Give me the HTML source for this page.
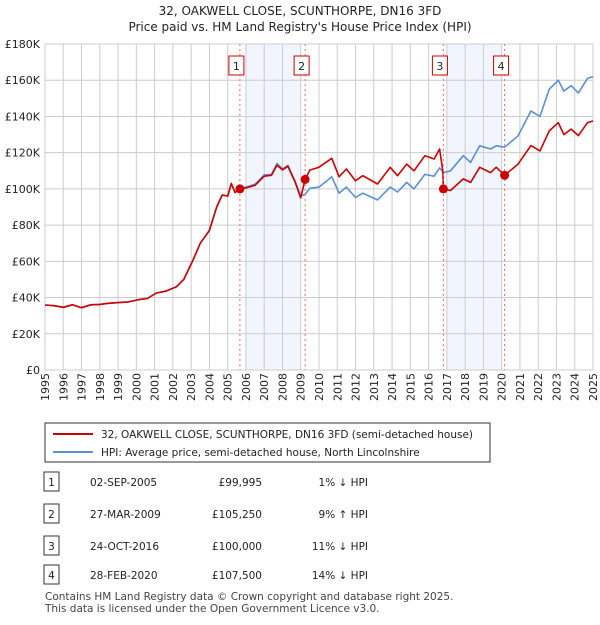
<!DOCTYPE html>
<html><head><meta charset="utf-8"><style>
body{margin:0;background:#fff;font-family:"Liberation Sans","DejaVu Sans",sans-serif;}
svg text{font-family:"DejaVu Sans","Liberation Sans",sans-serif;}
</style></head><body>
<svg id="c" width="600" height="620" xmlns="http://www.w3.org/2000/svg">
<text x="300" y="15" text-anchor="middle" font-size="12" fill="#222">32, OAKWELL CLOSE, SCUNTHORPE, DN16 3FD</text>
<text x="300" y="31" text-anchor="middle" font-size="12" fill="#222">Price paid vs. HM Land Registry's House Price Index (HPI)</text>
<g id="plot"></g>
<g>
<rect x="45" y="423" width="445" height="39" fill="#fff" stroke="#333" stroke-width="1"/>
<line x1="53" y1="434" x2="93" y2="434" stroke="#cc0000" stroke-width="2"/>
<text x="101" y="438" font-size="10.5" fill="#222">32, OAKWELL CLOSE, SCUNTHORPE, DN16 3FD (semi-detached house)</text>
<line x1="53" y1="452" x2="93" y2="452" stroke="#5b8fd6" stroke-width="2"/>
<text x="101" y="456" font-size="10.5" fill="#222">HPI: Average price, semi-detached house, North Lincolnshire</text>
</g>
<g id="table" font-size="10.5" fill="#222"></g>
<text x="45" y="600" font-size="10.5" fill="#444">Contains HM Land Registry data © Crown copyright and database right 2025.</text>
<text x="45" y="612" font-size="10.5" fill="#444">This data is licensed under the Open Government Licence v3.0.</text>
</svg>
<script>
const hpiYears=[1995,1995.5,1996,1996.5,1997,1997.5,1998,1998.4,1999,1999.5,2000.2,2000.6,2001.1,2001.6,2002.2,2002.6,2003.1,2003.5,2004.0,2004.4,2004.7,2005.0,2005.2,2005.4,2005.67,2006.0,2006.5,2007.0,2007.4,2007.7,2008.0,2008.3,2008.7,2009.0,2009.24,2009.5,2010.0,2010.7,2011.1,2011.5,2012.0,2012.4,2013.2,2013.9,2014.3,2014.8,2015.2,2015.8,2016.3,2016.6,2016.81,2017.2,2017.9,2018.3,2018.8,2019.4,2019.7,2020.16,2020.9,2021.6,2022.1,2022.6,2023.1,2023.4,2023.8,2024.2,2024.7,2025.0];
const hpiValues=[35.9,35.5,34.6,36,34.4,36,36.2,36.8,37.2,37.5,39,39.5,42.5,43.5,46,50,60.7,70,77,90,96.6,96,103,98,100.5,101,102.6,107.7,108,114,111,113,104,96,97,100.3,101,106.7,97.6,101,95.3,97.6,93.9,101,98.3,103.6,100,108,107,111.6,109,110,118.3,114.6,123.8,122,123.8,123,129.3,143,140,155,160,154,157,153,161,162];
const priceYears=[1995,1995.5,1996,1996.5,1997,1997.5,1998,1998.4,1999,1999.5,2000.2,2000.6,2001.1,2001.6,2002.2,2002.6,2003.1,2003.5,2004.0,2004.4,2004.7,2005.0,2005.2,2005.4,2005.67,2006.0,2006.5,2007.0,2007.4,2007.7,2008.0,2008.3,2008.7,2009.0,2009.24,2009.5,2010.0,2010.7,2011.1,2011.5,2012.0,2012.4,2013.2,2013.9,2014.3,2014.8,2015.2,2015.8,2016.3,2016.6,2016.78,2016.81,2017.2,2017.9,2018.3,2018.8,2019.4,2019.7,2020.16,2020.9,2021.6,2022.1,2022.6,2023.1,2023.4,2023.8,2024.2,2024.7,2025.0];
const priceValues=[35.9,35.5,34.6,36,34.4,36,36.2,36.8,37.2,37.5,39,39.5,42.5,43.5,46,50,60.7,70,77,90,96.6,96,103,98,100,100.5,102,107,107.5,113,110.5,112.5,103.5,95,105.25,110.4,112,116.9,106.7,111,104.5,107.3,102.7,111.9,107.3,113.7,110,118.3,116.5,122,110,100,99.1,105.5,103.6,111.9,109,112,107.5,113.7,123.9,121,132,136.6,130,133,129.4,136.6,137.5];
const saleYears=[2005.67,2009.24,2016.81,2020.16];
const saleValues=[99.995,105.25,100,107.5];
const saleLabels=["1","2","3","4"];
const saleDates=["02-SEP-2005","27-MAR-2009","24-OCT-2016","28-FEB-2020"];
const salePrices=["£99,995","£105,250","£100,000","£107,500"];
const saleHpi=["1% ↓ HPI","9% ↑ HPI","11% ↓ HPI","14% ↓ HPI"];
const bandStarts=[2006,2017];
const bandEnds=[2009,2020];
const yTicks=[0,20,40,60,80,100,120,140,160,180];
const yTickLabels=["£0","£20K","£40K","£60K","£80K","£100K","£120K","£140K","£160K","£180K"];
const xTicks=[1995,1996,1997,1998,1999,2000,2001,2002,2003,2004,2005,2006,2007,2008,2009,2010,2011,2012,2013,2014,2015,2016,2017,2018,2019,2020,2021,2022,2023,2024,2025];

const NS="http://www.w3.org/2000/svg";
const L=45,R=593,T=44,B=370;
const xs=y=>L+(y-1995)/30*(R-L);
const ys=v=>B-v/180*(B-T);
const g=document.getElementById('plot');
function mk(tag,at,parent){const e=document.createElementNS(NS,tag);for(const k in at)e.setAttribute(k,at[k]);(parent||g).appendChild(e);return e;}
let e;
e=mk('rect',{x:L,y:T,width:R-L,height:B-T,fill:'#fff'});


bandStarts.forEach((s,i)=>{e=mk('rect',{x:xs(s),y:T,width:xs(bandEnds[i])-xs(s),height:B-T,fill:'#eef3fc',opacity:0.8});

});
yTicks.forEach((v,i)=>{e=mk('line',{x1:L,x2:R,y1:ys(v),y2:ys(v),stroke:'#cccccc','stroke-width':1});


e=mk('text',{x:L-5,y:ys(v)+4,'text-anchor':'end','font-size':11,fill:'#222'});e.textContent=yTickLabels[i];

});
xTicks.forEach(y=>{e=mk('line',{x1:xs(y),x2:xs(y),y1:T,y2:B,stroke:'#cccccc','stroke-width':1});


const tx=xs(y)+4,ty=B+3;
e=mk('text',{x:tx,y:ty,'text-anchor':'end','font-size':11,fill:'#222',transform:'rotate(-90 '+tx+' '+ty+')'});e.textContent=y;

});
e=mk('rect',{x:L,y:T,width:R-L,height:B-T,fill:'none',stroke:'#cccccc'});


function line(xa,va,col,name){const d=xa.map((x,i)=>(i?'L':'M')+xs(x).toFixed(1)+','+ys(va[i]).toFixed(1)).join('');
const p=mk('path',{d:d,fill:'none',stroke:col,'stroke-width':1.6,'stroke-linejoin':'round'});

}
line(hpiYears,hpiValues,'#5b8fd6','hpi-line');
line(priceYears,priceValues,'#cc0000','price-paid-line');
saleYears.forEach((y,i)=>{
e=mk('line',{x1:xs(y),x2:xs(y),y1:T,y2:B,stroke:'#ff6666','stroke-width':1,'stroke-dasharray':'2,3'});


e=mk('circle',{cx:xs(y),cy:ys(saleValues[i]),r:4.5,fill:'#cc0000'});


e=mk('rect',{x:xs(y)-11,y:56,width:15,height:19,fill:'#fff',stroke:'#cc0000'});


e=mk('text',{x:xs(y)-3.5,y:70,'text-anchor':'middle','font-size':11,fill:'#222'});e.textContent=saleLabels[i];

});
const tb=document.getElementById('table');
const rowY=[482,514,546,575];
saleLabels.forEach((s,i)=>{const y=rowY[i];
e=mk('rect',{x:44,y:y-10,width:15,height:19,fill:'#fff',stroke:'#333'},tb);


e=mk('text',{x:51.5,y:y+4,'text-anchor':'middle'},tb);e.textContent=s;


e=mk('text',{x:90,y:y+4},tb);e.textContent=saleDates[i];


e=mk('text',{x:262,y:y+4,'text-anchor':'end'},tb);e.textContent=salePrices[i];


e=mk('text',{x:368,y:y+4,'text-anchor':'end'},tb);e.textContent=saleHpi[i];

});
</script>
</body></html>
